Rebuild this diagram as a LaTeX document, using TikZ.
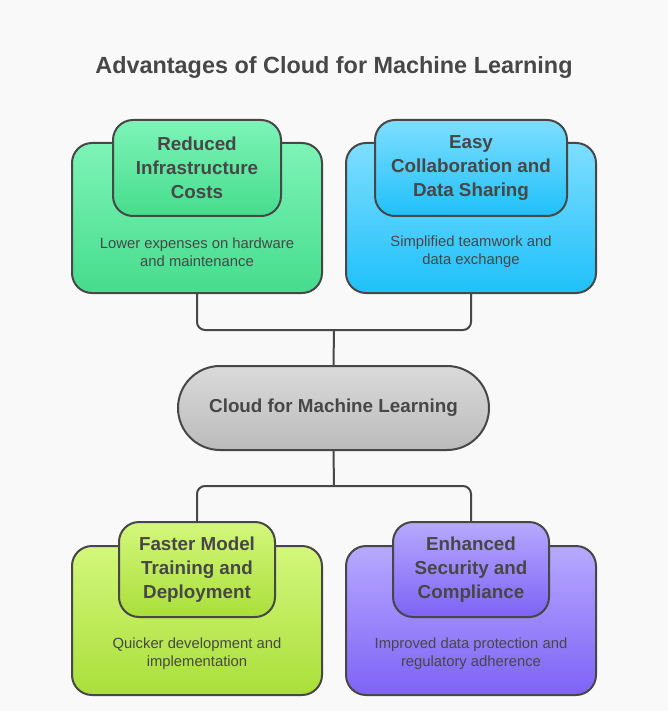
\documentclass[tikz,border=0pt]{standalone}
\usepackage{fontspec}
\setmainfont{Liberation Sans}
\usetikzlibrary{calc}
\definecolor{bg}{HTML}{F9F9F9}
\definecolor{ln}{HTML}{474747}
\definecolor{tx}{HTML}{474747}
\definecolor{gT}{HTML}{7DF4B6}\definecolor{gB}{HTML}{46DC8D}
\definecolor{bT}{HTML}{7EDEFF}\definecolor{bB}{HTML}{1FC0FA}
\definecolor{lT}{HTML}{D4F77C}\definecolor{lB}{HTML}{A9DF3A}
\definecolor{pT}{HTML}{B7A9FF}\definecolor{pB}{HTML}{7E63F6}
\definecolor{cT}{HTML}{DADADA}\definecolor{cB}{HTML}{BBBBBB}
\tikzset{
  box/.style={draw=ln, line width=2pt, rounded corners=20pt, inner sep=0pt},
  outerbox/.style={box, minimum width=250pt, minimum height=150pt},
  innerbox/.style={box, align=center, text=tx, font=\fontsize{18.8}{24}\selectfont\bfseries},
  desc/.style={align=center, text=tx, font=\fontsize{14.8}{18}\selectfont},
  conn/.style={draw=ln, line width=2pt, rounded corners=8pt},
}
\begin{document}
\begin{tikzpicture}[x=1pt,y=-1pt]
\fill[bg] (0,0) rectangle (668,711);
\useasboundingbox (0,0) rectangle (668,711);
\node[text=tx, font=\fontsize{23.4}{28}\selectfont\bfseries] (title) at (334,67.5) {Advantages of Cloud for Machine Learning};
% coordinates for junctions
\coordinate (jt) at (334,330);
\coordinate (jb) at (334,486);
% outer boxes
\node[outerbox, top color=gT, bottom color=gB] (o1) at (197,218) {};
\node[outerbox, top color=bT, bottom color=bB] (o2) at (471,218) {};
\node[outerbox, minimum height=149pt, top color=lT, bottom color=lB] (o3) at (197,620.5) {};
\node[outerbox, minimum height=149pt, top color=pT, bottom color=pB] (o4) at (471,620.5) {};
% center node
\node[draw=ln, line width=2pt, rounded corners=42pt, minimum width=311pt, minimum height=84pt, top color=cT, bottom color=cB, text=tx, font=\fontsize{18.8}{24}\selectfont\bfseries] (c) at (333.5,408) {Cloud for Machine Learning};
% inner boxes
\node[innerbox, minimum width=168pt, minimum height=96pt, top color=gT, bottom color=gB] (i1) at (197,168) {Reduced\\Infrastructure\\Costs};
\node[innerbox, minimum width=192pt, minimum height=96pt, top color=bT, bottom color=bB] (i2) at (471,168) {Easy\\Collaboration and\\Data Sharing};
\node[innerbox, minimum width=156pt, minimum height=95pt, top color=lT, bottom color=lB] (i3) at (197,569.5) {Faster Model\\Training and\\Deployment};
\node[innerbox, minimum width=156pt, minimum height=95pt, top color=pT, bottom color=pB] (i4) at (471,569.5) {Enhanced\\Security and\\Compliance};
% descriptions
\node[desc] (d1) at (197,252) {Lower expenses on hardware\\and maintenance};
\node[desc] (d2) at (471,252) {Simplified teamwork and\\data exchange};
\node[desc] (d3) at (197,654) {Quicker development and\\implementation};
\node[desc] (d4) at (471,654) {Improved data protection and\\regulatory adherence};
% connectors
\draw[conn] (o1.south) |- (jt) -| (o2.south);
\draw[conn] (jt) -- (c.north);
\draw[conn] (c.south) -- (jb);
\draw[conn] (i3.north) |- (jb) -| (i4.north);
\end{tikzpicture}
\end{document}
